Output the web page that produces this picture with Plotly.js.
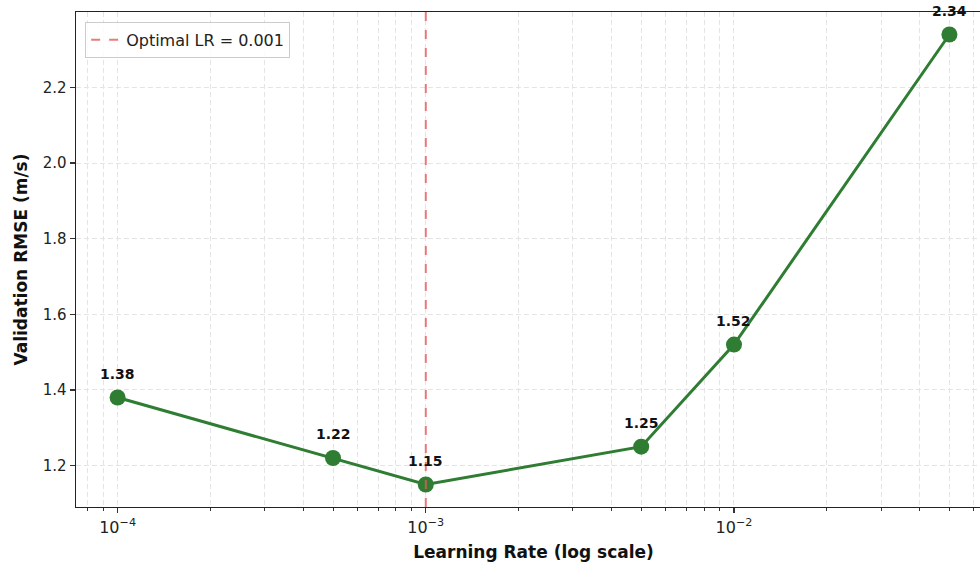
<!DOCTYPE html>
<html>
<head>
<meta charset="utf-8">
<script src="https://cdn.plot.ly/plotly-3.0.1.min.js"></script>
<style>
  html, body { margin: 0; padding: 0; overflow: hidden; background: #fff; }
  #chart { width: 991px; height: 569px; }
</style>
</head>
<body>
<div id="chart"></div>
<script>
// Learning-rate sweep: validation RMSE per learning rate
const learningRates = [1e-4, 5e-4, 1e-3, 5e-3, 1e-2, 5e-2];
const rmseValues = [1.38, 1.22, 1.15, 1.25, 1.52, 2.34];
const optimalLR = 0.001;
const xTickVals = [1e-4, 1e-3, 1e-2];
const xTickText = ['10<sup>−4</sup>', '10<sup>−3</sup>', '10<sup>−2</sup>'];

const FONT = 'DejaVu Sans, Arial, sans-serif';
const GREEN = '#2e7d32';

// 5% padding around the data, like matplotlib's default margins
const lx = learningRates.map(Math.log10);
const xMin = Math.min(...lx), xMax = Math.max(...lx);
const xPad = 0.05 * (xMax - xMin);
const yMin = Math.min(...rmseValues), yMax = Math.max(...rmseValues);
const yPad = 0.05 * (yMax - yMin);

const rmseTrace = {
  x: learningRates,
  y: rmseValues,
  type: 'scatter',
  mode: 'lines+markers',
  line: { color: GREEN, width: 3 },
  marker: { color: GREEN, size: 16 },
  showlegend: false,
  hoverinfo: 'x+y'
};

const labels = learningRates.map((lr, i) => ({
  x: Math.log10(lr),
  y: rmseValues[i],
  xref: 'x', yref: 'y',
  text: '<b>' + rmseValues[i].toFixed(2) + '</b>',
  showarrow: false,
  yshift: 24,
  font: { family: FONT, size: 14, color: '#111' }
}));

const gridColor = '#e4e4e4';
const gridDash = '5px,3px';

const layout = {
  width: 991,
  height: 569,
  margin: { l: 76, r: 0, t: 12, b: 62 },
  paper_bgcolor: '#fff',
  plot_bgcolor: '#fff',
  font: { family: FONT, color: '#222' },
  xaxis: {
    type: 'log',
    range: [xMin - xPad, xMax + xPad],
    tickvals: xTickVals,
    ticktext: xTickText,
    tickfont: { size: 16, color: '#222' },
    ticks: 'outside', ticklen: 5, tickwidth: 1.2, tickcolor: '#333',
    showline: true, linecolor: '#222', linewidth: 1.4, mirror: true,
    showgrid: true, gridcolor: gridColor, griddash: gridDash, gridwidth: 1,
    minor: {
      dtick: 'D1',
      ticks: 'outside', ticklen: 3, tickcolor: '#333', tickwidth: 1,
      showgrid: true, gridcolor: gridColor, griddash: gridDash, gridwidth: 1
    },
    zeroline: false,
    title: {
      text: '<b>Learning Rate (log scale)</b>',
      font: { family: FONT, size: 17, color: '#111' },
      standoff: 10
    }
  },
  yaxis: {
    range: [yMin - yPad, yMax + yPad],
    dtick: 0.2,
    tick0: 0,
    tickformat: '.1f',
    tickfont: { size: 15, color: '#222' },
    ticks: 'outside', ticklen: 5, tickwidth: 1.2, tickcolor: '#333',
    showline: true, linecolor: '#222', linewidth: 1.4, mirror: true,
    showgrid: true, gridcolor: gridColor, griddash: gridDash, gridwidth: 1,
    zeroline: false,
    title: {
      text: '<b>Validation RMSE (m/s)</b>',
      font: { family: FONT, size: 17, color: '#111' },
      standoff: 10
    }
  },
  shapes: [{
    type: 'line',
    xref: 'x', yref: 'paper',
    x0: optimalLR, x1: optimalLR, y0: 0, y1: 1,
    line: { color: 'rgba(226,90,90,0.8)', width: 2, dash: 'dash' },
    showlegend: true,
    name: 'Optimal LR = ' + optimalLR,
    layer: 'above'
  }],
  annotations: labels,
  legend: {
    x: 0.01, y: 0.98,
    xanchor: 'left', yanchor: 'top',
    bgcolor: 'rgba(255,255,255,0.85)',
    bordercolor: '#cccccc', borderwidth: 1,
    font: { family: FONT, size: 16, color: '#222' }
  },
  showlegend: true
};

Plotly.newPlot('chart', [rmseTrace], layout, { displayModeBar: false, staticPlot: true });
</script>
</body>
</html>
